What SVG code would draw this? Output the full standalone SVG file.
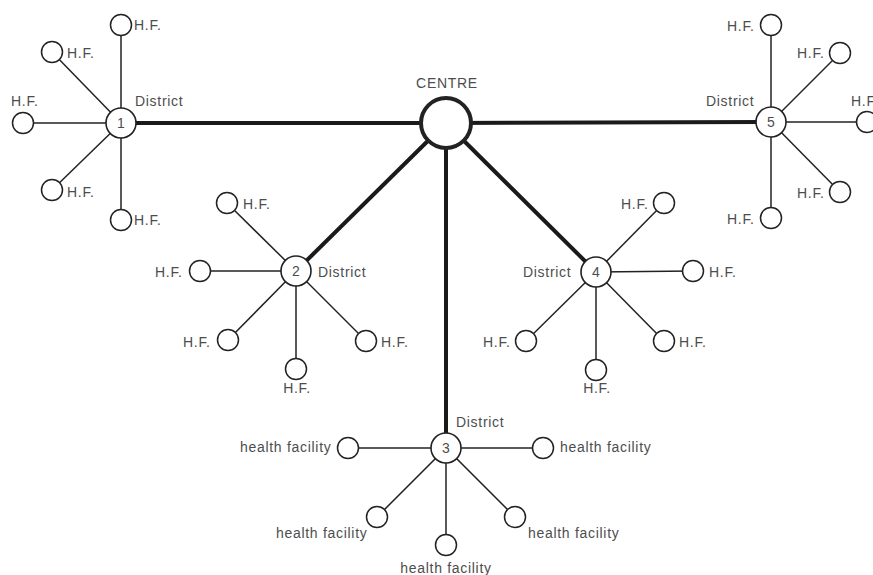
<svg xmlns="http://www.w3.org/2000/svg" width="873" height="575" viewBox="0 0 873 575">
<style>
.t{font-family:"Liberation Sans",Arial,sans-serif;font-size:14px;fill:#4d4d4d;letter-spacing:0.7px}
.m{text-anchor:middle}
.e{text-anchor:end}
.n{font-family:"Liberation Sans",Arial,sans-serif;font-size:14px;fill:#4d4d4d;text-anchor:middle}
.hf{fill:#fff;stroke:#222;stroke-width:1.5}
.d{fill:#fff;stroke:#222;stroke-width:1.6}
.c{fill:#fff;stroke:#222;stroke-width:4}
.s{stroke:#222;stroke-width:1.5}
.k{stroke:#1a1a1a;stroke-width:4}
</style>
<rect width="873" height="575" fill="#fff"/>
<g id="connectors">
<line class="k" x1="446" y1="123" x2="121" y2="123"/>
<line class="k" x1="446" y1="123" x2="771" y2="122"/>
<line class="k" x1="446" y1="123" x2="296" y2="271"/>
<line class="k" x1="446" y1="123" x2="596" y2="272"/>
<line class="k" x1="446" y1="123" x2="446" y2="448"/>
<!-- district 1 spokes -->
<line class="s" x1="121" y1="123" x2="121" y2="25"/>
<line class="s" x1="121" y1="123" x2="52" y2="52"/>
<line class="s" x1="121" y1="123" x2="23" y2="123"/>
<line class="s" x1="121" y1="123" x2="52" y2="190"/>
<line class="s" x1="121" y1="123" x2="121" y2="220"/>
<!-- district 5 spokes -->
<line class="s" x1="771" y1="122" x2="771" y2="25"/>
<line class="s" x1="771" y1="122" x2="840" y2="53"/>
<line class="s" x1="771" y1="122" x2="867" y2="122"/>
<line class="s" x1="771" y1="122" x2="840" y2="192"/>
<line class="s" x1="771" y1="122" x2="771" y2="218"/>
<!-- district 2 spokes -->
<line class="s" x1="296" y1="271" x2="227" y2="203"/>
<line class="s" x1="296" y1="271" x2="200" y2="271"/>
<line class="s" x1="296" y1="271" x2="228" y2="340"/>
<line class="s" x1="296" y1="271" x2="296" y2="369"/>
<line class="s" x1="296" y1="271" x2="366" y2="341"/>
<!-- district 4 spokes -->
<line class="s" x1="596" y1="272" x2="664" y2="203"/>
<line class="s" x1="596" y1="272" x2="693" y2="271"/>
<line class="s" x1="596" y1="272" x2="664" y2="341"/>
<line class="s" x1="596" y1="272" x2="596" y2="370"/>
<line class="s" x1="596" y1="272" x2="526" y2="341"/>
<!-- district 3 spokes -->
<line class="s" x1="446" y1="448" x2="348" y2="448"/>
<line class="s" x1="446" y1="448" x2="543" y2="448"/>
<line class="s" x1="446" y1="448" x2="377" y2="517"/>
<line class="s" x1="446" y1="448" x2="446" y2="545"/>
<line class="s" x1="446" y1="448" x2="515" y2="517"/>
</g>
<g id="centre">
<circle class="c" cx="446" cy="123" r="25"/>
<text class="t m" x="447" y="88">CENTRE</text>
</g>
<g id="district1">
<circle class="d" cx="121" cy="123" r="15"/>
<text class="n" x="121" y="128">1</text>
<text class="t" x="135" y="106">District</text>
</g>
<g id="d1-hf1"><circle class="hf" cx="121" cy="25" r="10.5"/><text class="t" x="134" y="30">H.F.</text></g>
<g id="d1-hf2"><circle class="hf" cx="52" cy="52" r="10.5"/><text class="t" x="67" y="58">H.F.</text></g>
<g id="d1-hf3"><circle class="hf" cx="23" cy="123" r="10.5"/><text class="t" x="11" y="106">H.F.</text></g>
<g id="d1-hf4"><circle class="hf" cx="52" cy="190" r="10.5"/><text class="t" x="67" y="197">H.F.</text></g>
<g id="d1-hf5"><circle class="hf" cx="121" cy="220" r="10.5"/><text class="t" x="134" y="225">H.F.</text></g>
<g id="district5">
<circle class="d" cx="771" cy="122" r="15"/>
<text class="n" x="771" y="127">5</text>
<text class="t" x="706" y="106">District</text>
</g>
<g id="d5-hf1"><circle class="hf" cx="771" cy="25" r="10.5"/><text class="t" x="727" y="31">H.F.</text></g>
<g id="d5-hf2"><circle class="hf" cx="840" cy="53" r="10.5"/><text class="t" x="797" y="58">H.F.</text></g>
<g id="d5-hf3"><circle class="hf" cx="867" cy="122" r="10.5"/><text class="t" x="851" y="106">H.F.</text></g>
<g id="d5-hf4"><circle class="hf" cx="840" cy="192" r="10.5"/><text class="t" x="797" y="198">H.F.</text></g>
<g id="d5-hf5"><circle class="hf" cx="771" cy="218" r="10.5"/><text class="t" x="727" y="224">H.F.</text></g>
<g id="district2">
<circle class="d" cx="296" cy="271" r="15"/>
<text class="n" x="296" y="276">2</text>
<text class="t" x="318" y="277">District</text>
</g>
<g id="d2-hf1"><circle class="hf" cx="227" cy="203" r="10.5"/><text class="t" x="243" y="209">H.F.</text></g>
<g id="d2-hf2"><circle class="hf" cx="200" cy="271" r="10.5"/><text class="t" x="155" y="277">H.F.</text></g>
<g id="d2-hf3"><circle class="hf" cx="228" cy="340" r="10.5"/><text class="t" x="183" y="347">H.F.</text></g>
<g id="d2-hf4"><circle class="hf" cx="296" cy="369" r="10.5"/><text class="t m" x="297" y="393">H.F.</text></g>
<g id="d2-hf5"><circle class="hf" cx="366" cy="341" r="10.5"/><text class="t" x="381" y="347">H.F.</text></g>
<g id="district4">
<circle class="d" cx="596" cy="272" r="15"/>
<text class="n" x="596" y="277">4</text>
<text class="t" x="523" y="277">District</text>
</g>
<g id="d4-hf1"><circle class="hf" cx="664" cy="203" r="10.5"/><text class="t" x="621" y="209">H.F.</text></g>
<g id="d4-hf2"><circle class="hf" cx="693" cy="271" r="10.5"/><text class="t" x="709" y="277">H.F.</text></g>
<g id="d4-hf3"><circle class="hf" cx="664" cy="341" r="10.5"/><text class="t" x="679" y="347">H.F.</text></g>
<g id="d4-hf4"><circle class="hf" cx="596" cy="370" r="10.5"/><text class="t m" x="597" y="393">H.F.</text></g>
<g id="d4-hf5"><circle class="hf" cx="526" cy="341" r="10.5"/><text class="t" x="483" y="347">H.F.</text></g>
<g id="district3">
<circle class="d" cx="446" cy="448" r="15"/>
<text class="n" x="446" y="453">3</text>
<text class="t" x="456" y="427">District</text>
</g>
<g id="d3-hf1"><circle class="hf" cx="348" cy="448" r="10.5"/><text class="t" x="240" y="452">health facility</text></g>
<g id="d3-hf2"><circle class="hf" cx="543" cy="448" r="10.5"/><text class="t" x="560" y="452">health facility</text></g>
<g id="d3-hf3"><circle class="hf" cx="377" cy="517" r="10.5"/><text class="t" x="276" y="538">health facility</text></g>
<g id="d3-hf4"><circle class="hf" cx="446" cy="545" r="10.5"/><text class="t m" x="446" y="573">health facility</text></g>
<g id="d3-hf5"><circle class="hf" cx="515" cy="517" r="10.5"/><text class="t" x="528" y="538">health facility</text></g>
</svg>
